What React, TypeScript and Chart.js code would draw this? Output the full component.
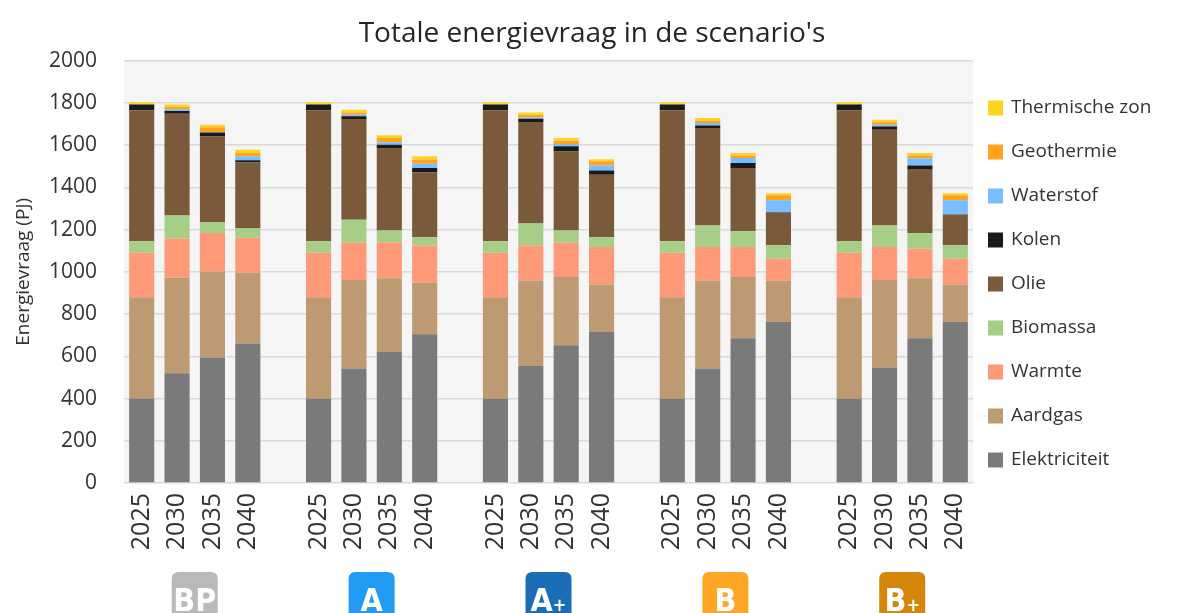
import React, { useEffect, useRef } from "react";
import { Chart, registerables } from "chart.js";

Chart.register(...registerables);

// Category axis: 4 years per scenario, blank slot between scenarios
const categories = [
  "2025", "2030", "2035", "2040", "",
  "2025", "2030", "2035", "2040", "",
  "2025", "2030", "2035", "2040", "",
  "2025", "2030", "2035", "2040", "",
  "2025", "2030", "2035", "2040",
];

const scenarios = ["BP", "A", "A+", "B", "B+"];
const scenarioColors = ["#b9b9b9", "#229bf5", "#1b6db5", "#ffa724", "#d4860b"];

const yTicks = [0, 200, 400, 600, 800, 1000, 1200, 1400, 1600, 1800, 2000];

// Series values (PJ), in order BP, A, A+, B, B+ (null = spacer)
const elektriciteit = [400, 520, 594, 661, null, 400, 542, 620, 704, null, 400, 554, 652, 717, null, 400, 542, 685, 762, null, 400, 547, 685, 762];
const aardgas = [480, 452, 408, 334, null, 480, 419, 349, 244, null, 480, 405, 323, 223, null, 480, 417, 290, 197, null, 480, 414, 284, 178];
const warmte = [210, 186, 182, 166, null, 210, 176, 171, 177, null, 210, 166, 162, 177, null, 210, 158, 142, 103, null, 210, 156, 140, 122];
const biomassa = [55, 108, 52, 44, null, 55, 110, 55, 39, null, 55, 104, 58, 47, null, 55, 102, 75, 64, null, 55, 102, 75, 64];
const olie = [620, 482, 405, 313, null, 620, 476, 391, 307, null, 620, 480, 375, 296, null, 620, 462, 299, 153, null, 620, 454, 303, 145];
const kolen = [27, 13, 19, 10, null, 27, 13, 16, 20, null, 27, 16, 24, 20, null, 27, 12, 24, 2, null, 27, 15, 16, 2];
const waterstof = [0, 9, 2, 19, null, 0, 8, 11, 21, null, 0, 5, 11, 23, null, 0, 11, 24, 58, null, 0, 8, 33, 66];
const geothermie = [3, 10, 22, 15, null, 3, 10, 20, 19, null, 3, 12, 16, 20, null, 3, 12, 12, 24, null, 3, 12, 15, 24];
const thermischeZon = [8, 12, 12, 16, null, 8, 13, 13, 16, null, 8, 12, 12, 10, null, 8, 12, 11, 9, null, 8, 12, 11, 9];

const seriesNames = ["Elektriciteit", "Aardgas", "Warmte", "Biomassa", "Olie", "Kolen", "Waterstof", "Geothermie", "Thermische zon"];
const seriesColors = ["#7a7a7a", "#bd9a72", "#ff9a78", "#a6ce86", "#7a5a3a", "#1a1a1a", "#77bdff", "#ffa41c", "#ffd41f"];
const seriesValues = [elektriciteit, aardgas, warmte, biomassa, olie, kolen, waterstof, geothermie, thermischeZon];

const TEXT = "#333333";
const FONT = "'Open Sans', 'Noto Sans', sans-serif";

const plotBackground = {
  id: "plotBackground",
  beforeDraw(chart: any) {
    const { ctx, chartArea } = chart;
    ctx.save();
    ctx.fillStyle = "#f5f5f5";
    ctx.fillRect(chartArea.left, chartArea.top, chartArea.right - chartArea.left, chartArea.bottom - chartArea.top);
    ctx.restore();
  },
};

const sideLegend = {
  id: "sideLegend",
  afterDraw(chart: any) {
    const { ctx, chartArea } = chart;
    const ds = chart.data.datasets;
    const x0 = chartArea.right + 15;
    const y0 = 100;
    const step = 44;
    ctx.save();
    ctx.font = "19px " + FONT;
    ctx.textBaseline = "middle";
    ctx.textAlign = "left";
    for (let i = 0; i < ds.length; i++) {
      const d = ds[ds.length - 1 - i];
      const y = y0 + i * step;
      ctx.fillStyle = d.backgroundColor;
      ctx.fillRect(x0, y - 7.5, 15, 15);
      ctx.fillStyle = TEXT;
      ctx.fillText(d.label, x0 + 23, y);
    }
    ctx.restore();
  },
};

function roundRect(ctx: any, x: number, y: number, w: number, h: number, r: number) {
  ctx.beginPath();
  ctx.moveTo(x + r, y);
  ctx.lineTo(x + w - r, y);
  ctx.quadraticCurveTo(x + w, y, x + w, y + r);
  ctx.lineTo(x + w, y + h - r);
  ctx.quadraticCurveTo(x + w, y + h, x + w - r, y + h);
  ctx.lineTo(x + r, y + h);
  ctx.quadraticCurveTo(x, y + h, x, y + h - r);
  ctx.lineTo(x, y + r);
  ctx.quadraticCurveTo(x, y, x + r, y);
  ctx.closePath();
}

const scenarioBadges = {
  id: "scenarioBadges",
  afterDraw(chart: any) {
    const { ctx } = chart;
    const xs = chart.scales.x;
    const top = 564;
    const w = 46;
    const h = 60;
    ctx.save();
    scenarios.forEach((name, g) => {
      const i1 = g * 5 + 1;
      const i2 = g * 5 + 2;
      const cx = (xs.getPixelForValue(i1) + xs.getPixelForValue(i2)) / 2;
      ctx.fillStyle = scenarioColors[g];
      roundRect(ctx, cx - w / 2, top, w, h, 7);
      ctx.fill();
      ctx.fillStyle = "#ffffff";
      ctx.textBaseline = "alphabetic";
      const condensed = "'Liberation Sans Narrow', 'DejaVu Sans Condensed', Roboto, sans-serif";
      const base = name.replace("+", "");
      const plus = name.includes("+");
      ctx.font = "bold 32px " + condensed;
      const bw = ctx.measureText(base).width;
      ctx.font = "bold 18px " + condensed;
      const pw = plus ? ctx.measureText("+").width : 0;
      const startX = cx - (bw + pw) / 2;
      ctx.textAlign = "left";
      ctx.font = "bold 32px " + condensed;
      ctx.fillText(base, startX, top + 39);
      if (plus) {
        ctx.font = "bold 18px " + condensed;
        ctx.fillText("+", startX + bw, top + 39);
      }
    });
    ctx.restore();
  },
};

export default function App() {
  const ref = useRef<HTMLCanvasElement | null>(null);

  useEffect(() => {
    if (!ref.current) return;
    const chart = new Chart(ref.current, {
      type: "bar",
      data: {
        labels: categories,
        datasets: seriesNames.map((name, i) => ({
          label: name,
          data: seriesValues[i],
          backgroundColor: seriesColors[i],
          borderWidth: 0,
          barPercentage: 0.71,
          categoryPercentage: 1.0,
          yAxisID: "y",
        })),
      },
      options: {
        animation: false,
        responsive: false,
        maintainAspectRatio: false,
        layout: { padding: 0 },
        plugins: {
          legend: { display: false },
          tooltip: { enabled: false },
          title: {
            display: true,
            text: "Totale energievraag in de scenario's",
            color: "#262626",
            font: { family: FONT, size: 28, weight: "normal" },
            padding: { top: 9, bottom: 10 },
          },
        },
        scales: {
          x: {
            stacked: true,
            grid: { display: false, drawTicks: false },
            border: { display: false },
            ticks: {
              autoSkip: false,
              minRotation: 90,
              maxRotation: 90,
              padding: 10,
              color: TEXT,
              font: { family: FONT, size: 25 },
            },
            afterFit(scale: any) {
              scale.height = 150;
            },
          },
          y: {
            stacked: true,
            min: 0,
            max: 2000,
            afterBuildTicks(scale: any) {
              scale.ticks = yTicks.map((v) => ({ value: v }));
            },
            grid: { color: "#d9d9d9", lineWidth: 1.5, drawTicks: false },
            border: { display: false },
            ticks: {
              padding: 27,
              color: TEXT,
              font: { family: FONT, size: 21 },
              callback: (v: any) => String(v),
            },
            title: {
              display: true,
              text: "Energievraag (PJ)",
              color: TEXT,
              font: { family: FONT, size: 19 },
              padding: { top: 4, bottom: 0 },
            },
            afterFit(scale: any) {
              scale.width = 116;
            },
          },
          legendSpace: {
            position: "right",
            display: true,
            min: 0,
            max: 1,
            grid: { display: false, drawTicks: false },
            border: { display: false },
            ticks: { display: false },
            afterFit(scale: any) {
              scale.width = 203;
            },
          },
        },
      },
      plugins: [plotBackground, sideLegend, scenarioBadges],
    });
    return () => chart.destroy();
  }, []);

  return (
    <div style={{ width: 1168, height: 625 }}>
      <canvas ref={ref} width={1168} height={625} style={{ display: "block" }} />
    </div>
  );
}
